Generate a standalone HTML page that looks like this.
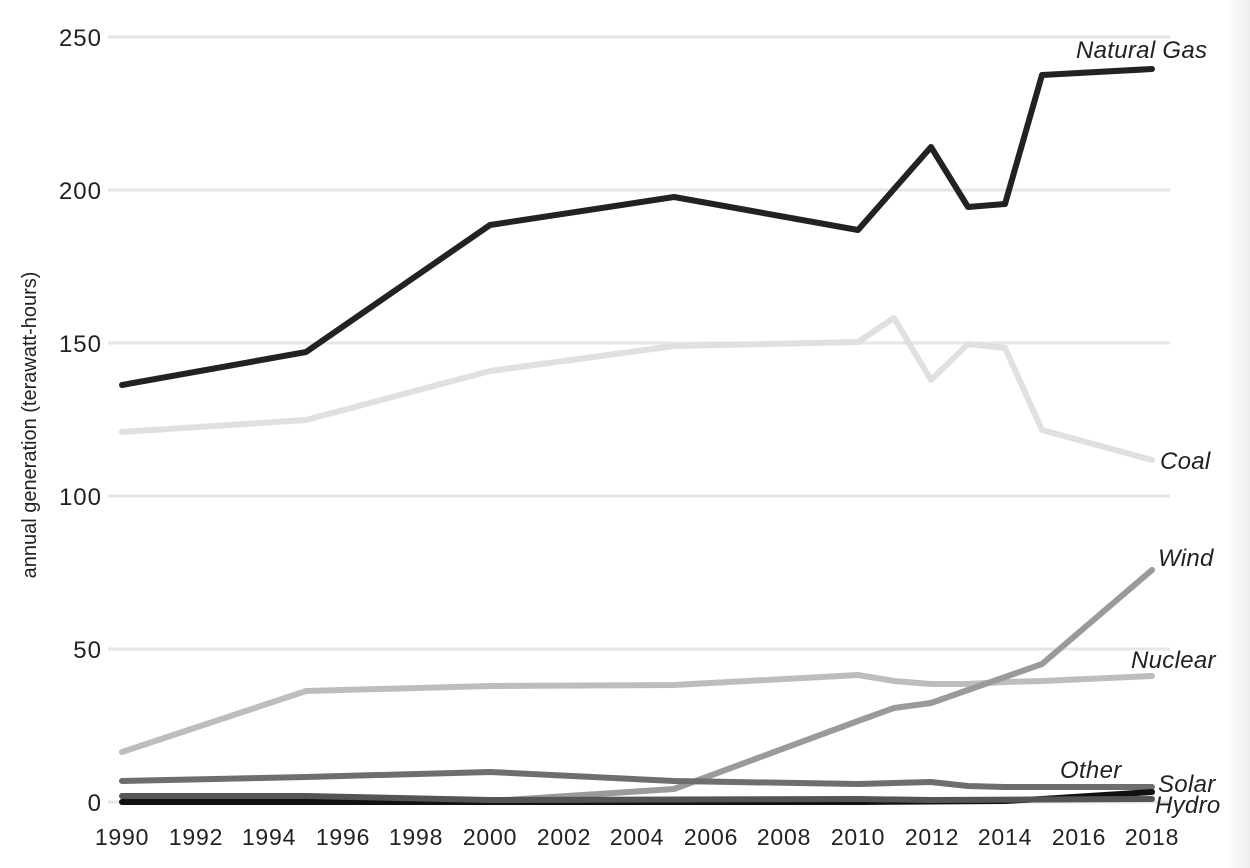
<!DOCTYPE html>
<html><head><meta charset="utf-8"><style>
html,body{margin:0;padding:0;background:#fff;}
body{width:1250px;height:868px;overflow:hidden;position:relative;}
.shadow{position:absolute;right:0;top:0;width:24px;height:868px;background:linear-gradient(to right,#fff,#eeeeee);}
</style></head><body>
<div class="shadow"></div>
<svg width="1250" height="868" style="position:absolute;left:0;top:0" font-family="Liberation Sans, sans-serif">
<g stroke="#e6e6e6" stroke-width="3">
<line x1="108" x2="1170" y1="37" y2="37"/>
<line x1="108" x2="1170" y1="190" y2="190"/>
<line x1="108" x2="1170" y1="343" y2="343"/>
<line x1="108" x2="1170" y1="496" y2="496"/>
<line x1="108" x2="1170" y1="649" y2="649"/>
<line x1="108" x2="1170" y1="802" y2="802"/>
</g>
<g font-size="24" fill="#222" text-anchor="end" letter-spacing="1">
<text x="102" y="46">250</text>
<text x="102" y="199">200</text>
<text x="102" y="352">150</text>
<text x="102" y="505">100</text>
<text x="102" y="658">50</text>
<text x="102" y="811">0</text>
</g>
<g font-size="23" fill="#222" text-anchor="middle" letter-spacing="0.8">
<text x="122" y="845">1990</text><text x="196" y="845">1992</text><text x="269" y="845">1994</text><text x="343" y="845">1996</text><text x="416" y="845">1998</text><text x="490" y="845">2000</text><text x="564" y="845">2002</text><text x="637" y="845">2004</text><text x="711" y="845">2006</text><text x="784" y="845">2008</text><text x="858" y="845">2010</text><text x="932" y="845">2012</text><text x="1005" y="845">2014</text><text x="1079" y="845">2016</text><text x="1152" y="845">2018</text>
</g>
<text transform="translate(36,425) rotate(-90)" font-size="20" fill="#222" text-anchor="middle">annual generation (terawatt-hours)</text>
<g fill="none" stroke-width="6" stroke-linecap="round" stroke-linejoin="round">
<polyline stroke="#e0e0e0" points="122,432 306,420 490,371 674,346 858,342 894,318 931,380 968,344 1005,348 1042,430 1152,460"/>
<polyline stroke="#bdbdbd" points="122,752 306,691 490,686 674,685 858,675 894,681 931,684 968,684 1005,682 1042,681 1152,676"/>
<polyline stroke="#9a9a9a" points="122,802 490,801 674,789 858,721 894,708 931,703 968,690 1042,664 1152,570"/>
<polyline stroke="#6e6e6e" points="122,781 306,777 490,772 674,781 858,784 931,782 968,786 1005,787 1152,787"/>
<polyline stroke="#111" points="122,802 858,802 1005,801 1042,799 1152,792"/>
<polyline stroke="#555" points="122,796 306,796 490,800 858,799 931,800 1152,799"/>
<polyline stroke="#222" points="122,385 306,352 490,225 674,197 858,230 931,147 968,207 1005,204 1042,75 1152,69"/>
</g>
<g font-size="24" font-style="italic" fill="#222" letter-spacing="0.3">
<text x="1076" y="58">Natural Gas</text>
<text x="1160" y="469">Coal</text>
<text x="1158" y="566">Wind</text>
<text x="1131" y="668">Nuclear</text>
<text x="1060" y="778">Other</text>
<text x="1158" y="792">Solar</text>
<text x="1155" y="813">Hydro</text>
</g>
</svg>
</body></html>
